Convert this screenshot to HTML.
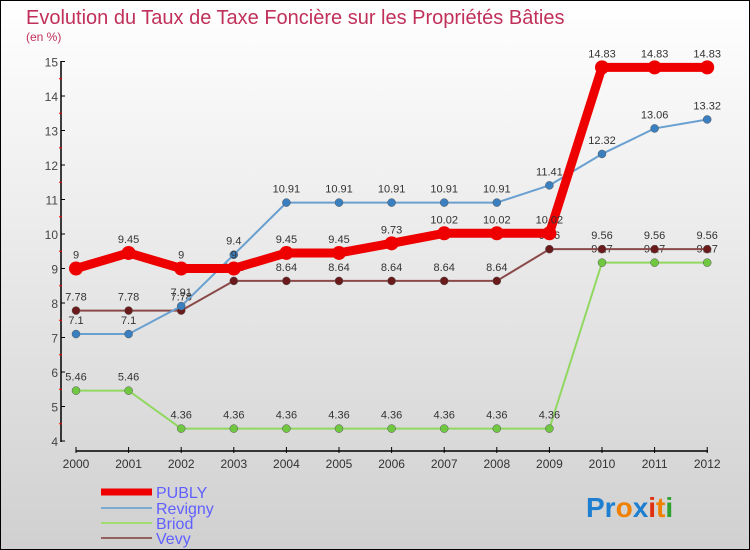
<!DOCTYPE html>
<html><head><meta charset="utf-8"><style>
body{margin:0}
#c{width:748px;height:548px;border:1px solid #000;background:linear-gradient(#fff,#d0d0d0);position:relative;overflow:hidden;font-family:"Liberation Sans",sans-serif}
</style></head><body>
<div id="c">
<svg id="s" width="748" height="548" xmlns="http://www.w3.org/2000/svg">
<text x="25" y="23" font-size="20" fill="#c0305a">Evolution du Taux de Taxe Foncière sur les Propriétés Bâties</text>
<text x="25" y="40" font-size="12" fill="#c0305a">(en %)</text>
<g id="axes"></g><g id="series"></g><g id="legend"></g>
<text x="585" y="516" font-size="28" font-weight="bold"><tspan fill="#1e7fd0">Pr</tspan><tspan fill="#f08000">o</tspan><tspan fill="#1e7fd0">x</tspan><tspan fill="#e03010">i</tspan><tspan fill="#f08000">t</tspan><tspan fill="#30a030">i</tspan></text>
</svg></div>
<script>
const years=[2000,2001,2002,2003,2004,2005,2006,2007,2008,2009,2010,2011,2012];
const yTicks=[4,5,6,7,8,9,10,11,12,13,14,15];
const publy=[9,9.45,9,9,9.45,9.45,9.73,10.02,10.02,10.02,14.83,14.83,14.83];
const revigny=[7.1,7.1,7.91,9.4,10.91,10.91,10.91,10.91,10.91,11.41,12.32,13.06,13.32];
const briod=[5.46,5.46,4.36,4.36,4.36,4.36,4.36,4.36,4.36,4.36,9.17,9.17,9.17];
const vevy=[7.78,7.78,7.78,8.64,8.64,8.64,8.64,8.64,8.64,9.56,9.56,9.56,9.56];
const NS="http://www.w3.org/2000/svg";
function X(i){return 75+i*52.6;}
function Y(v){return 440-(v-4)*34.5;}
function el(t,a,p){const e=document.createElementNS(NS,t);for(const k in a)e.setAttribute(k,a[k]);p.appendChild(e);return e;}
const ax=document.getElementById('axes');
let l=el('line',{x1:60,y1:60,x2:60,y2:441,stroke:'#000','stroke-width':1.5},ax);


l=el('line',{x1:75,y1:450,x2:707,y2:450,stroke:'#000','stroke-width':1.5},ax);


yTicks.forEach(v=>{
 el('line',{x1:60,y1:Y(v),x2:64,y2:Y(v),stroke:'#000'},ax);
 if(v<15)el('line',{x1:58,y1:Y(v+0.5),x2:61,y2:Y(v+0.5),stroke:'#f00'},ax);
 const t=el('text',{x:57,y:Y(v)+5,'font-size':12,fill:'#444','text-anchor':'end'},ax);t.textContent=v;
 
 
});
years.forEach((y,i)=>{
 el('line',{x1:X(i),y1:446,x2:X(i),y2:452,stroke:'#000'},ax);
 const t=el('text',{x:X(i),y:467,'font-size':12,fill:'#333','text-anchor':'middle'},ax);t.textContent=y;
 
 
});
const sg=document.getElementById('series');
const defs=[["briod",briod,'#90d860','#70c840',2,4],["vevy",vevy,'#8b4a4a','#6a1a1a',2,4],["revigny",revigny,'#6aa0d0','#3a80c0',2,4],["publy",publy,'#ee0000','#ee0000',9,7]];
defs.forEach(([n,d,c,dc,w,r])=>{
 const pl=el('polyline',{points:d.map((v,i)=>X(i)+','+Y(v)).join(' '),fill:'none',stroke:c,'stroke-width':w,'stroke-linejoin':'round'},sg);
 
 
 d.forEach((v,i)=>{
  const p=el('circle',{cx:X(i),cy:Y(v),r:r,fill:dc,stroke:n=='publy'?'none':'#555','stroke-width':0.5},sg);
  
  
  const t=el('text',{x:X(i),y:Y(v)-10,'font-size':11,fill:'#333','text-anchor':'middle'},sg);t.textContent=v;
  
  
 });
});
const lg=document.getElementById('legend');
[["PUBLY",'#ee0000',7,491],["Revigny",'#7aaad0',2,507],["Briod",'#a0dc70',2,522],["Vevy",'#946060',2,537]].forEach(([n,c,w,y])=>{
 const g=el('g',{},lg);
 
 
 el('line',{x1:100,y1:y,x2:151,y2:y,stroke:c,'stroke-width':w},g);
 const t=el('text',{x:155,y:y+6,'font-size':16,fill:'#6060ff'},g);t.textContent=n;
});
</script></body></html>
